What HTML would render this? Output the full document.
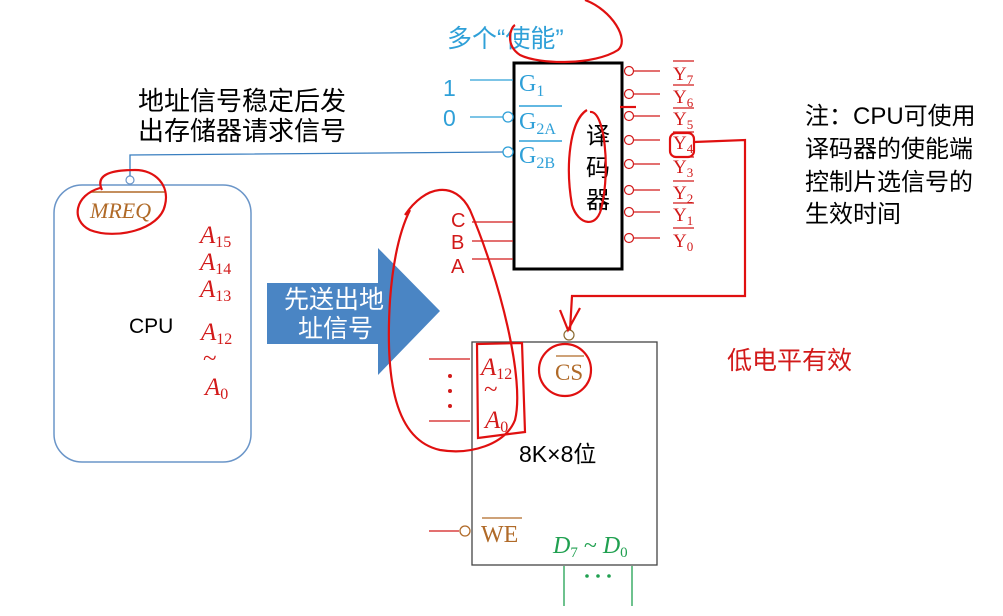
<!DOCTYPE html>
<html><head><meta charset="utf-8"><style>
body{margin:0;background:#fff;}
svg{display:block;}
text{font-family:"Liberation Sans","Noto Sans CJK SC",sans-serif;}
.serif text, text.serif{font-family:"Liberation Serif","Noto Serif CJK SC",serif;}
</style></head><body>
<svg width="1003" height="616" viewBox="0 0 1003 616" xmlns="http://www.w3.org/2000/svg">
<!-- CPU box -->
<rect x="54" y="185" width="197" height="277" rx="28" fill="none" stroke="#6a95c8" stroke-width="1.5"/>
<text x="129" y="333" font-size="21" fill="#000">CPU</text>
<text class="serif" x="90" y="218" font-size="22" font-style="italic" fill="#b06a28">MREQ</text>
<line x1="90" y1="192" x2="166" y2="192" stroke="#b06a28" stroke-width="1.5"/>
<circle cx="130" cy="180" r="4" fill="#fff" stroke="#6a95c8" stroke-width="1.2"/>
<polyline points="130,176 130,155 503,152" fill="none" stroke="#3a7fc0" stroke-width="1.3"/>
<g class="serif" font-style="italic" fill="#d21a1a" font-size="25">
<text x="200" y="243">A<tspan font-size="16" dy="4" font-style="normal">15</tspan></text>
<text x="200" y="270">A<tspan font-size="16" dy="4" font-style="normal">14</tspan></text>
<text x="200" y="297">A<tspan font-size="16" dy="4" font-style="normal">13</tspan></text>
<text x="201" y="340">A<tspan font-size="16" dy="4" font-style="normal">12</tspan></text>
<text x="203" y="366" font-style="normal">~</text>
<text x="205" y="395">A<tspan font-size="16" dy="4" font-style="normal">0</tspan></text>
</g>
<text x="138" y="110" font-size="26" fill="#000">地址信号稳定后发</text>
<text x="138" y="140" font-size="26" fill="#000">出存储器请求信号</text>
<!-- arrow -->
<polygon points="267,283 378,283 378,248 440,311 378,375 378,344 267,344" fill="#4a85c4"/>
<text x="284" y="308" font-size="25" fill="#fff">先送出地</text>
<text x="298" y="337" font-size="25" fill="#fff">址信号</text>
<!-- decoder -->
<text x="447" y="47" font-size="25" fill="#2fa0d8">多个“使能”</text>
<rect x="514" y="63" width="108" height="206" fill="none" stroke="#000" stroke-width="3"/>
<g fill="#2fa0d8" font-size="23">
<text x="443" y="96">1</text>
<text x="443" y="126">0</text>
</g>
<line x1="470" y1="80" x2="513" y2="80" stroke="#2fa0d8" stroke-width="1.3"/>
<line x1="470" y1="117" x2="503" y2="117" stroke="#2fa0d8" stroke-width="1.3"/>
<circle cx="508" cy="117" r="5" fill="#fff" stroke="#2fa0d8" stroke-width="1.3"/>
<circle cx="508" cy="152" r="5" fill="#fff" stroke="#2fa0d8" stroke-width="1.3"/>
<g class="serif" fill="#2fa0d8" font-size="24">
<text x="519" y="91">G<tspan font-size="16" dy="5">1</tspan></text>
<text x="519" y="129">G<tspan font-size="16" dy="5">2A</tspan></text>
<text x="519" y="163">G<tspan font-size="16" dy="5">2B</tspan></text>
</g>
<line x1="519" y1="106" x2="562" y2="106" stroke="#2fa0d8" stroke-width="1.5"/>
<line x1="519" y1="141" x2="562" y2="141" stroke="#2fa0d8" stroke-width="1.5"/>
<g font-size="24" fill="#000"><text x="586" y="144">译</text><text x="586" y="176">码</text><text x="586" y="208">器</text></g>
<!-- outputs -->
<g stroke="#d21a1a" stroke-width="1.2" fill="#fff">
<circle cx="629" cy="71" r="4.5"/><line x1="634" y1="71" x2="660" y2="71"/>
<circle cx="629" cy="94" r="4.5"/><line x1="634" y1="94" x2="660" y2="94"/>
<circle cx="629" cy="116" r="4.5"/><line x1="634" y1="116" x2="660" y2="116"/>
<circle cx="629" cy="140" r="4.5"/><line x1="634" y1="140" x2="660" y2="140"/>
<circle cx="629" cy="164" r="4.5"/><line x1="634" y1="164" x2="660" y2="164"/>
<circle cx="629" cy="190" r="4.5"/><line x1="634" y1="190" x2="660" y2="190"/>
<circle cx="629" cy="212" r="4.5"/><line x1="634" y1="212" x2="660" y2="212"/>
<circle cx="629" cy="238" r="4.5"/><line x1="634" y1="238" x2="660" y2="238"/>
</g>
<g class="serif" fill="#d21a1a" font-size="19">
<text x="673" y="80">Y<tspan font-size="13" dy="4">7</tspan></text>
<text x="673" y="103">Y<tspan font-size="13" dy="4">6</tspan></text>
<text x="673" y="125">Y<tspan font-size="13" dy="4">5</tspan></text>
<text x="673" y="149">Y<tspan font-size="13" dy="4">4</tspan></text>
<text x="673" y="173">Y<tspan font-size="13" dy="4">3</tspan></text>
<text x="673" y="199">Y<tspan font-size="13" dy="4">2</tspan></text>
<text x="673" y="221">Y<tspan font-size="13" dy="4">1</tspan></text>
<text x="673" y="247">Y<tspan font-size="13" dy="4">0</tspan></text>
</g>
<g stroke="#d21a1a" stroke-width="1.2">
<line x1="673" y1="61" x2="694" y2="61"/><line x1="673" y1="85" x2="694" y2="85"/>
<line x1="673" y1="108" x2="694" y2="108"/><line x1="673" y1="132" x2="694" y2="132"/>
<line x1="673" y1="157" x2="694" y2="157"/><line x1="673" y1="181" x2="694" y2="181"/>
<line x1="673" y1="203" x2="694" y2="203"/><line x1="673" y1="228" x2="694" y2="228"/>
</g>
<!-- CBA -->
<g fill="#d21a1a" font-size="20"><text x="451" y="227">C</text><text x="451" y="249">B</text><text x="451" y="273">A</text></g>
<g stroke="#d21a1a" stroke-width="1.2"><line x1="472" y1="222" x2="513" y2="222"/><line x1="472" y1="241" x2="513" y2="241"/><line x1="472" y1="259" x2="513" y2="259"/></g>
<!-- memory -->
<rect x="472" y="342" width="185" height="223" fill="none" stroke="#444" stroke-width="1.3"/>
<g stroke="#d21a1a" stroke-width="1.2"><line x1="429" y1="359" x2="470" y2="359"/><line x1="429" y1="421" x2="470" y2="421"/><line x1="429" y1="531" x2="459" y2="531"/></g>
<circle cx="465" cy="531" r="5" fill="#fff" stroke="#b06a28" stroke-width="1.3"/>
<g fill="#d21a1a"><circle cx="450" cy="376" r="2"/><circle cx="450" cy="391" r="2"/><circle cx="450" cy="406" r="2"/></g>
<g class="serif" font-style="italic" fill="#d21a1a" font-size="25">
<text x="481" y="375">A<tspan font-size="16" dy="4" font-style="normal">12</tspan></text>
<text x="484" y="397" font-style="normal">~</text>
<text x="485" y="428">A<tspan font-size="16" dy="4" font-style="normal">0</tspan></text>
</g>
<text class="serif" x="555" y="380" font-size="23" fill="#b06a28">CS</text>
<line x1="556" y1="356" x2="584" y2="356" stroke="#b06a28" stroke-width="1.3"/>
<circle cx="569" cy="335" r="5" fill="#fff" stroke="#8a6a30" stroke-width="1.2"/>
<text class="serif" x="481" y="542" font-size="24" fill="#b06a28">WE</text>
<line x1="482" y1="518" x2="522" y2="518" stroke="#b06a28" stroke-width="1.3"/>
<text x="519" y="462" font-size="23" fill="#000">8K×8位</text>
<text class="serif" x="553" y="553" font-size="24" font-style="italic" fill="#20a050">D<tspan font-size="15" dy="4" font-style="normal">7</tspan><tspan dy="-4" font-style="normal"> ~ </tspan>D<tspan font-size="15" dy="4" font-style="normal">0</tspan></text>
<g stroke="#20a050" stroke-width="1.3"><line x1="564" y1="566" x2="564" y2="606"/><line x1="632" y1="566" x2="632" y2="606"/></g>
<g fill="#20a050"><circle cx="587" cy="576" r="1.8"/><circle cx="598" cy="576" r="1.8"/><circle cx="609" cy="576" r="1.8"/></g>
<!-- notes -->
<g font-size="24" fill="#000">
<text x="805" y="124">注：CPU可使用</text>
<text x="805" y="157">译码器的使能端</text>
<text x="805" y="190">控制片选信号的</text>
<text x="805" y="222">生效时间</text>
</g>
<text x="727" y="369" font-size="25" fill="#d21a1a">低电平有效</text>
<!-- red annotations -->
<g fill="none" stroke="#e01010" stroke-width="2.2">
<path d="M585,0 C612,10 630,40 618,50 C595,65 540,65 520,55 C505,45 510,28 515,25"/>
<path d="M587,110 C570,120 565,165 572,205 C578,225 598,230 602,205 C610,170 605,110 590,112"/>
<path d="M620,107 L636,107"/>
<rect x="670" y="133" width="24" height="24" rx="6"/>
<path d="M694,142 L745,140 L745,296 L572,296 L570,330"/>
<path d="M560,310 L568,330 L580,308"/>
<circle cx="565" cy="370" r="26"/>
<path d="M102,190 C95,175 110,170 135,170 C155,170 170,185 165,205 C160,230 115,240 90,230 C70,220 75,195 100,188"/>
<path d="M405,215 C425,185 455,180 470,210 C500,280 525,380 515,420 C505,445 470,455 440,450 C395,440 385,380 390,300 C393,260 400,230 410,210"/>
<path d="M477,344 L522,343 L525,432 L478,438 Z"/>
</g>
</svg>
</body></html>
